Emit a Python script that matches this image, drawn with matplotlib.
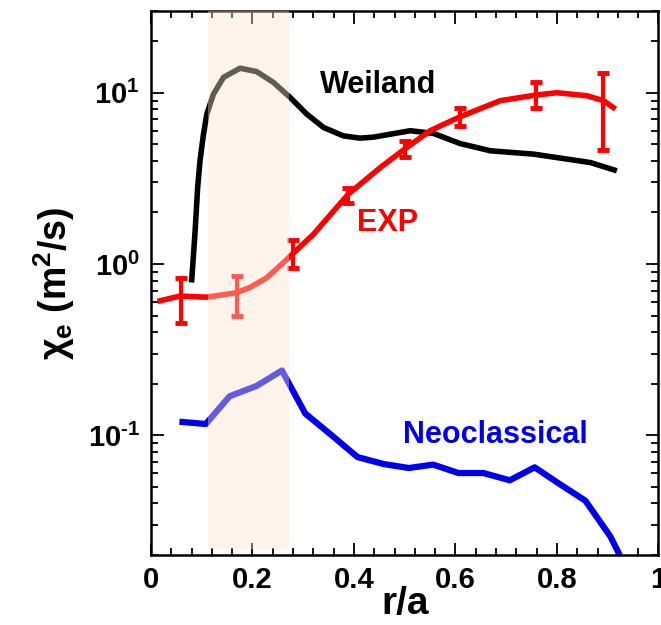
import numpy as np
import matplotlib
matplotlib.use("Agg")
import matplotlib.pyplot as plt
from matplotlib.ticker import FixedLocator, FixedFormatter, MultipleLocator, LogLocator, NullFormatter

plt.rcParams['font.family'] = ['Liberation Sans', 'DejaVu Sans']
plt.rcParams['font.weight'] = 'bold'
plt.rcParams['mathtext.fontset'] = 'custom'
plt.rcParams['mathtext.rm'] = 'Liberation Sans:bold'
plt.rcParams['mathtext.it'] = 'Liberation Sans:bold'
plt.rcParams['mathtext.bf'] = 'Liberation Sans:bold'

# Weiland model (black)
weiland_x = [0.080, 0.087, 0.092, 0.0966, 0.103, 0.110, 0.123, 0.143, 0.1755, 0.208,
             0.241, 0.274, 0.307, 0.340, 0.379, 0.412, 0.438, 0.475, 0.511, 0.557,
             0.609, 0.669, 0.754, 0.866, 0.918]
weiland_y = [0.78, 1.56, 2.8, 4.0, 5.6, 7.5, 9.8, 12.3, 13.9, 13.3,
             11.5, 9.4, 7.5, 6.27, 5.6, 5.43, 5.5, 5.75, 6.0, 5.78,
             5.05, 4.58, 4.38, 3.91, 3.50]

# experimental fit curve (red)
exp_curve_x = [0.018, 0.057, 0.110, 0.169, 0.195, 0.228, 0.261, 0.281, 0.320, 0.389,
               0.452, 0.50, 0.550, 0.609, 0.688, 0.759, 0.80, 0.859, 0.891, 0.911]
exp_curve_y = [0.61, 0.65, 0.64, 0.68, 0.73, 0.83, 1.02, 1.16, 1.49, 2.56,
               3.66, 4.69, 6.0, 7.24, 8.98, 9.7, 10.0, 9.6, 9.0, 8.2]

# experimental points with error bars
exp_x = [0.059, 0.169, 0.279, 0.389, 0.500, 0.609, 0.759, 0.891]
exp_y = [0.64, 0.68, 1.16, 2.56, 4.69, 7.24, 9.7, 8.98]
exp_lo = [0.45, 0.50, 0.95, 2.28, 4.19, 6.41, 8.14, 4.64]
exp_hi = [0.83, 0.85, 1.39, 2.79, 5.24, 8.09, 11.6, 13.1]

# neoclassical (blue)
neo_x = [0.056, 0.108, 0.155, 0.208, 0.258, 0.304, 0.356, 0.407, 0.458, 0.508,
         0.556, 0.606, 0.655, 0.707, 0.756, 0.807, 0.856, 0.905, 0.925]
neo_y = [0.120, 0.1164, 0.169, 0.194, 0.239, 0.134, 0.100, 0.0746, 0.068, 0.0644,
         0.0674, 0.0602, 0.0602, 0.0546, 0.065, 0.0515, 0.0415, 0.0257, 0.0196]

shade_range = [0.112, 0.272]

xtick_vals = [0, 0.2, 0.4, 0.6, 0.8, 1.0]
xtick_labels = ['0', '0.2', '0.4', '0.6', '0.8', '1']
ytick_vals = [0.1, 1, 10]
ytick_labels = [r'$10^{\text{-}1}$', '$10^{0}$', '$10^{1}$']

fig = plt.figure(figsize=(6.61, 6.25), dpi=100)
ax = fig.add_axes([0.2284, 0.112, 0.7678, 0.8704])

ax.plot(weiland_x, weiland_y, color='black', lw=4, solid_capstyle='butt',
        solid_joinstyle='round', zorder=2)
ax.plot(exp_curve_x, exp_curve_y, color='red', lw=4, solid_joinstyle='round', zorder=2)
lo_err = np.array(exp_y) - np.array(exp_lo)
hi_err = np.array(exp_hi) - np.array(exp_y)
ax.errorbar(exp_x, exp_y, yerr=[lo_err, hi_err], fmt='none', ecolor='red',
            elinewidth=3, capsize=4, capthick=3.5, zorder=2)
ax.plot(neo_x, neo_y, color='#0000ee', lw=4.5, solid_capstyle='butt', zorder=2)

# shaded band overlays the lines
ax.axvspan(shade_range[0], shade_range[1], ymin=0.011, ymax=1,
           facecolor=(253/255, 228/255, 205/255), alpha=0.4, lw=0, zorder=3)

ax.text(0.447, 11.1, 'Weiland', color='black', fontsize=22, fontweight='bold',
        ha='center', va='center', zorder=4)
ax.text(0.467, 1.74, 'EXP', color='red', fontsize=22, fontweight='bold',
        ha='center', va='center', zorder=4)
ax.text(0.679, 0.1, 'Neoclassical', color='#0000ee', fontsize=22, fontweight='bold',
        ha='center', va='center', zorder=4)

ax.set_yscale('log')
ax.set_xlim(0, 1)
ax.set_ylim(0.02, 30)

ax.xaxis.set_major_locator(FixedLocator(xtick_vals))
ax.xaxis.set_major_formatter(FixedFormatter(xtick_labels))
ax.xaxis.set_minor_locator(MultipleLocator(0.04))
ax.yaxis.set_major_locator(FixedLocator(ytick_vals))
ax.yaxis.set_major_formatter(FixedFormatter(ytick_labels))
ax.yaxis.set_minor_locator(LogLocator(base=10, subs=np.arange(2, 10)))
ax.yaxis.set_minor_formatter(NullFormatter())

ax.tick_params(which='both', direction='in', top=True, right=True, width=1.3)
ax.tick_params(which='major', length=9, labelsize=21, pad=8)
ax.tick_params(which='minor', length=5)
for s in ax.spines.values():
    s.set_linewidth(1.8)

ax.set_xlabel('r/a', fontsize=28, fontweight='bold', labelpad=-6)
ax.set_ylabel(r'$\chi_e$ (m$^2$/s)', fontsize=27, fontweight='bold', labelpad=8)

fig.savefig('out.png', dpi=100)
